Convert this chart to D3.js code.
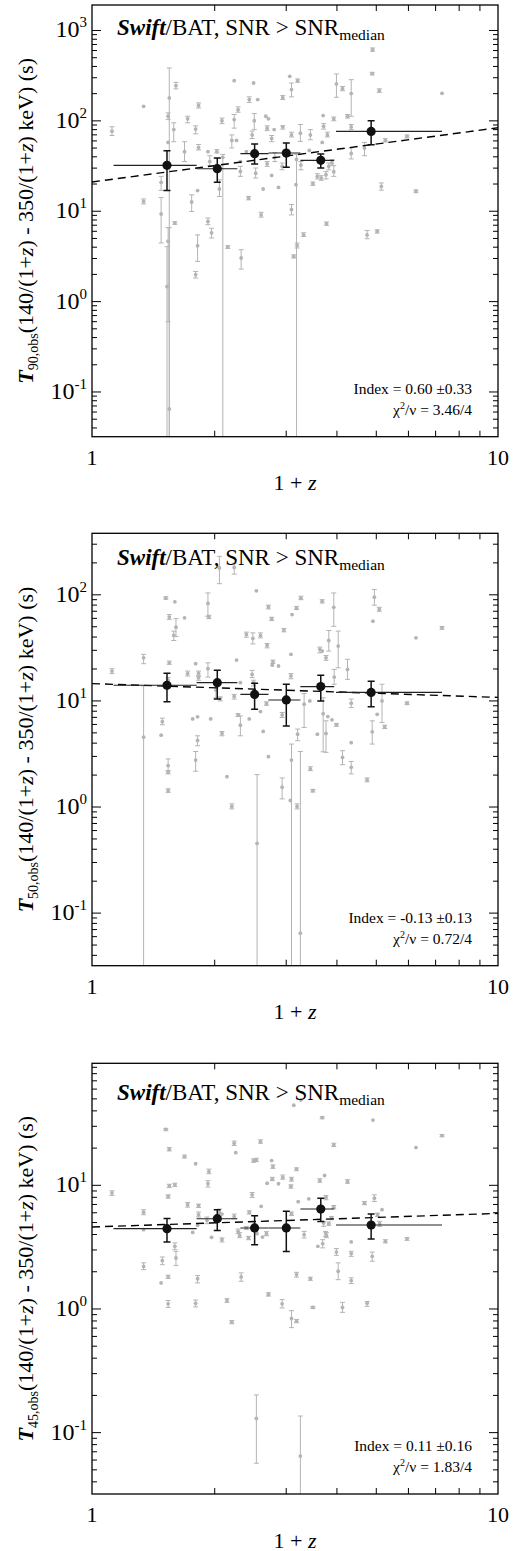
<!DOCTYPE html>
<html><head><meta charset="utf-8">
<script src="https://cdn.jsdelivr.net/npm/d3@7"></script>
<style>
body{margin:0;background:#fff}
svg{display:block}
text{font-family:"Liberation Serif","Times New Roman",serif;fill:#000}
</style>
</head><body>
<svg id="c" width="517" height="1551"></svg>
<script>
// ---------------- DATA ----------------
// binned points (1+z), shared bin edges
const binZ   = [1.53, 2.035, 2.515, 3.01, 3.66, 4.87];
const binZLo = [1.13, 1.81, 2.32, 2.72, 3.26, 3.99];
const binZHi = [1.81, 2.28, 2.72, 3.26, 3.95, 7.28];

const t90Bin   = [31.8, 29.2, 42.8, 43.5, 36.1, 75.5];
const t90BinLo = [16.7, 20.6, 32.9, 30.2, 29.7, 53.8];
const t90BinHi = [46.2, 38.3, 54.8, 56.2, 42.5, 99.3];

const t50Bin   = [13.9, 14.7, 11.4, 10.1, 13.5, 11.9];
const t50BinLo = [9.74, 10.3, 8.27, 5.75, 9.9, 8.7];
const t50BinHi = [18.0, 19.3, 14.5, 14.2, 17.3, 15.2];

const t45Bin   = [4.42, 5.32, 4.48, 4.48, 6.37, 4.73];
const t45BinLo = [3.45, 4.28, 3.28, 2.89, 5.04, 3.65];
const t45BinHi = [5.35, 6.28, 5.62, 6.10, 7.77, 5.81];

// power-law fits  T = norm * (1+z)^index
const fitNorm  = [20.8, 14.4, 4.56];
const fitIndex = [0.60, -0.13, 0.11];
const indexText = ["0.60 \u00b10.33", "-0.13 \u00b10.13", "0.11 \u00b10.16"];
const chiText   = ["3.46/4", "0.72/4", "1.83/4"];

const durLabel = ["90,obs", "50,obs", "45,obs"];
const yTickExp = [[3,2,1,0,-1],[2,1,0,-1],[1,0,-1]];
const xTickMajor = [1, 10];
const xTickMinor = [2,3,4,5,6,7,8,9];

// individual GRBs: [1+z, T, lower, upper] (lower/upper omitted when no bar)
const t90Points = [
[1.12,76,68,85],[1.34,143],[1.34,12.7,11.9,13.5],[1.48,20.6,16.8,24],[1.48,9.2,4.4,14.0],
[1.54,111,102,121],[1.55,177,0.001,380],[1.54,57],[1.59,79,58,94],[1.61,242,223,264],
[1.69,45,35,58],[1.72,104,94,111],[1.76,12.5,9.8,15],[1.80,80,71,87],[1.82,16.7],
[1.83,146,137,156],[1.83,50,47,54],[1.93,45],[1.93,7.6,7.0,8.3],[1.95,35,31.5,40.6],
[1.97,5.7,5.0,6.4],[2.03,45,43.6,47.4],[2.06,17.4,14.4,22],[2.09,99,92,106],[2.10,39,0.001,42],
[2.21,60,49.5,69],[2.24,275],[2.24,102,82,116],[2.27,60],[2.29,131,123,141],
[2.32,27.2,24,31],[2.32,35],[2.40,45],[2.43,13.8,13.2,14.4],[2.44,170,158,182],
[2.48,69,63,76],[2.50,259],[2.51,99,79,119],[2.53,26,23,29.7],[2.56,170],
[2.61,9.0,8.5,9.6],[2.64,17.4],[2.68,111],[2.72,104],[2.70,82,77,87],
[2.70,33,31,35],[2.77,24.6],[2.77,63,58,68],[2.81,79],[2.82,39,35,44],
[2.95,178,170,188],[2.95,84.5,80,87],[2.94,31,28.4,33.7],[3.07,307],[3.10,219,182,259],
[3.10,69,65.5,74],[3.10,10.3,9.0,11.7],[3.21,275,264,287],[3.26,72,58.5,90],[3.45,69,61,79],
[3.80,69,65.5,74],[3.72,86,80,92],[3.71,113],[3.94,104,99,109],[3.69,57],
[3.43,46.5],[3.19,37,0.001,42],[3.27,32,28.4,35],[3.32,5.4,5.2,5.7],[3.50,19.9,19.1,20.8],
[3.59,24,22.5,25.7],[3.67,23,21.7,24.4],[3.77,25,22.5,27.2],[3.83,31,28.4,33.7],[3.90,34,32,36.7],
[3.94,27,24,31.5],[3.78,7.2,6.9,7.5],[4.00,253,180,326],[4.14,224,213,237],[4.26,111,106,116],
[4.35,198,111,282],[4.35,84.5,79,90],[4.35,43,37.4,49.5],[4.69,49.5,40.6,57],[4.91,607,581,633],
[4.90,329,318,340],[5.10,213,204,223],[5.28,60,57.7,62.7],[5.16,18.6,16.9,20.3],[5.97,66.5,64,69],
[6.28,16.4,15.8,17],[7.28,199],[4.76,5.4,4.9,6.05],[5.04,5.9,5.66,6.15],[3.18,19.4],
[1.53,1.45,0.001,4.0],[1.54,4.6,0.59,6.5],[1.55,0.064,0.001,6.5],[1.60,7.3,7.07,7.56],[1.80,1.96,1.8,2.13],
[1.82,4.1,2.75,5.4],[2.16,3.96,3.83,4.1],[2.33,3.0,2.26,3.7],[3.14,3.12,3.0,3.25],[3.20,4.13,3.87,4.39],
[2.88,18.1]
];

const t50Points = [
[1.12,18.9,17.9,19.9],[1.34,25.2,22.2,27.2],[1.34,4.5,0.001,13.7],[1.48,4.7],[1.49,6.3,5.9,6.8],
[1.52,92,90,95],[1.54,15.5,14.7,16.4],[1.55,61,58,64.5],[1.55,22.6,21.9,23.5],[1.54,2.43,2.18,2.81],
[1.54,2.10,2.03,2.18],[1.54,1.41,1.36,1.47],[1.60,85],[1.59,41,36.7,45],[1.61,49,40,59],
[1.69,60],[1.72,17.9,17.0,18.9],[1.77,6.7],[1.80,22.2],[1.82,7.0],
[1.82,4.2,3.74,4.64],[1.80,2.74,2.15,3.3],[1.83,18.0,17.0,18.9],[1.83,16.4,15.5,17.0],[1.93,82,62,103],
[1.94,61,59,63.5],[1.93,19.9,16.6,22.6],[1.96,6.7],[2.02,12.5,10.6,13.2],[2.06,177,126,228],
[2.07,10.4,9.9,10.8],[2.09,4.88,4.64,5.09],[2.15,1.91],[2.24,10.9,10.3,11.4],[2.24,179,155,197],
[2.27,24.0],[2.29,7.3,7.05,7.5],[2.32,14.7],[2.32,5.85,4.64,7.15],[2.40,41.8,39.4,44],
[2.44,6.7],[2.49,38.4,34.1,43.3],[2.48,17.6,16.4,19.2],[2.50,14.7,13.7,15.5],[2.54,108],
[2.55,0.45,0.001,2.0],[2.60,41,38.9,43.3],[2.60,7.85],[2.64,5.1],[2.69,9.3,9.0,9.7],
[2.70,33,31.3,34.4],[2.72,76,72.8,79],[2.72,2.95],[2.77,58.6,56.6,60.8],[2.78,21.5],
[2.79,23.1,22.3,24],[2.88,21.1],[2.94,7.3,6.9,7.7],[2.94,1.52,1.18,1.86],[2.97,46,44.3,47.6],
[3.09,27.2],[3.09,17.0,16.0,17.9],[3.10,2.74,0.001,3.88],[3.08,1.14],[3.11,64.4],
[3.19,74,71.8,77],[3.21,4.8,4.17,5.37],[3.27,92,89,96],[3.26,0.064,0.001,3.3],[3.20,1.0,0.95,1.06],
[2.21,1.0,0.95,1.06],[3.33,9.2,5.55,11.6],[3.44,9.9],[3.45,2.26,2.18,2.37],[3.50,1.41,1.37,1.45],
[3.59,4.8],[3.64,30.3,28.1,31.8],[3.69,29.2],[3.69,86,82.8,89],[3.71,7.5,3.28,10.6],
[3.77,25.2,23.9,26.5],[3.77,4.88,3.24,6.42],[3.81,7.05],[3.83,36.7,29.2,45.6],[3.90,6.56],
[3.94,75.5,50,103],[3.95,16.6,14.2,19.6],[4.00,5.9,5.72,6.05],[4.04,32.5,20.3,45],[4.14,2.9,2.48,3.36],
[4.26,19.6,15.8,24.4],[4.35,4.0],[4.35,2.34,2.03,2.66],[4.35,9.4,8.56,10.3],[4.76,1.78,1.71,1.86],
[4.90,5.06,3.88,6.42],[4.92,55.8],[4.96,94,79,111],[5.10,72.3,69.2,75.5],[5.04,7.4],
[5.18,9.9,6.19,14.2],[5.26,5.64,5.43,5.85],[5.97,9.4,9.13,9.68],[6.28,38.9],[7.28,48.3,46.9,49.7]
];

const t45Points = [
[1.12,8.6,8.2,8.95],[1.34,6.0,5.73,6.29],[1.34,4.34],[1.34,2.19,2.06,2.34],[1.48,1.61],
[1.49,2.44,2.26,2.61],[1.52,28.1,27.4,28.6],[1.55,19.4,18.8,20],[1.55,9.8,9.5,10.1],[1.54,8.05,7.8,8.3],
[1.54,1.80,1.75,1.86],[1.54,1.09,1.02,1.16],[1.60,10,9.7,10.3],[1.60,3.18,2.99,3.39],[1.61,2.56,2.23,2.9],
[1.69,16.9,16.5,17.4],[1.72,6.9,6.6,7.2],[1.77,4.12],[1.80,14.8],[1.82,4.7],
[1.83,6.77,6.56,6.98],[1.83,5.73,5.49,6.03],[1.82,1.74,1.61,1.85],[1.80,1.10,1.03,1.17],[1.94,12.8,12.3,13.4],
[1.93,10.2,9.6,10.8],[1.92,5.15,4.85,5.49],[1.97,3.76],[2.06,5.98,5.55,6.37],[2.09,3.6,3.45,3.72],
[2.09,5.8],[2.15,1.16,1.12,1.2],[2.21,0.775,0.753,0.80],[2.24,21.7,20.8,22.6],[2.26,18.2],
[2.24,5.55,5.32,5.8],[2.29,4.2,4.03,4.39],[2.31,3.9,3.74,4.1],[2.33,1.8,1.66,1.94],[2.40,4.48,4.34,4.61],
[2.43,3.72,3.6,3.83],[2.44,5.98,5.8,6.17],[2.48,8.3,7.9,8.67],[2.50,15.7,15.2,16.2],[2.54,15.9,15.4,16.4],
[2.55,4.03],[2.60,22.3,21.7,23.1],[2.61,6.7],[2.63,3.78],[2.69,4.03,3.88,4.18],
[2.70,10.3],[2.72,1.30,1.26,1.34],[2.77,15.7],[2.79,14.0,13.6,14.5],[2.78,11.1,10.8,11.5],
[2.88,10.2],[2.95,11.5,11.1,12],[2.94,1.09,1.01,1.18],[3.10,11.1,10.7,11.5],[3.09,9.7,9.4,10],
[3.10,5.84,5.65,6.03],[3.10,0.83,0.70,0.96],[3.19,13.4,13,13.7],[3.19,1.88,1.79,1.96],[3.19,0.79,0.767,0.815],
[3.22,7.3],[3.14,44],[3.27,48.5],[3.69,34.9,34.3,35.6],[4.92,33.4],
[3.94,21,20.4,21.7],[3.64,10.8,10.5,11.2],[3.74,11.9],[4.26,10.6,10.3,11],[3.42,7.7],
[3.77,7.9,7.57,8.2],[3.94,6.6,6.4,6.8],[4.69,7.1,6.9,7.33],[4.96,7.8,7.33,8.3],[5.18,6.3],
[5.05,5.73,5.55,5.9],[5.11,4.85,4.61,5.06],[3.89,5.39,5.22,5.55],[3.72,4.91,4.61,5.06],[3.83,4.85,4.7,5.0],
[3.33,3.95,3.72,4.2],[3.76,4.08,3.83,4.2],[3.78,3.9,3.74,4.1],[3.60,3.18],[3.70,3.34,3.09,3.6],
[4.00,2.86,2.69,3.05],[4.35,3.45],[4.35,2.78,2.64,2.9],[4.90,2.64,2.41,2.86],[5.28,3.49,3.39,3.6],
[5.97,3.65,3.56,3.74],[3.45,1.74,1.69,1.79],[4.04,2.0,1.71,2.34],[4.35,1.68,1.59,1.77],[3.50,1.02,1.0,1.04],
[4.14,1.02,0.93,1.12],[4.76,1.10,1.04,1.14],[6.28,20],[7.28,25,24.5,25.5],[2.54,0.129,0.056,0.2],
[3.26,0.064,0.001,0.135]
];

const yDomainMin = 0.0316;
const yDomainMax = [1890, 376, 96.1];

// ---------------- LAYOUT ----------------
const pointSets = [t90Points, t50Points, t45Points];
const binSets = [[t90Bin,t90BinLo,t90BinHi],[t50Bin,t50BinLo,t50BinHi],[t45Bin,t45BinLo,t45BinHi]];
const panelTop = [5, 533.3, 1063.3];
const panelBottom = [436.7, 965.7, 1494];
const titleDy = [30, 32, 37];
const L = 92, R = 498;
const grey = "#b4b4b4";

const svg = d3.select("#c");
const x = d3.scaleLog().domain([1,10]).range([L,R]);

for (let i = 0; i < 3; i++) {
  const top = panelTop[i], bot = panelBottom[i];
  const y = d3.scaleLog().domain([yDomainMin, yDomainMax[i]]).range([bot, top]);
  const g = svg.append("g");
  const clipId = "clip" + i;
  g.append("clipPath").attr("id", clipId).append("rect")
    .attr("x", L).attr("y", top).attr("width", R - L).attr("height", bot - top);
  const plot = g.append("g").attr("clip-path", `url(#${clipId})`);

  const pts = pointSets[i];
  const withErr = pts.filter(p => p.length === 4);
  const inDom = v => v >= yDomainMin && v <= yDomainMax[i];

  // grey error bars
  plot.selectAll("line.eb").data(withErr).join("line")
    .attr("x1", d => x(d[0])).attr("x2", d => x(d[0]))
    .attr("y1", d => y(d[2])).attr("y2", d => y(d[3]))
    .attr("stroke", grey).attr("stroke-width", 1);
  const caps = [];
  withErr.forEach(d => { if (inDom(d[2])) caps.push([d[0], d[2]]); if (inDom(d[3])) caps.push([d[0], d[3]]); });
  plot.selectAll("line.cap").data(caps).join("line")
    .attr("x1", d => x(d[0]) - 2.5).attr("x2", d => x(d[0]) + 2.5)
    .attr("y1", d => y(d[1])).attr("y2", d => y(d[1]))
    .attr("stroke", grey).attr("stroke-width", 1);
  plot.selectAll("circle.pt").data(pts).join("circle")
    .attr("cx", d => x(d[0])).attr("cy", d => y(d[1])).attr("r", 1.9)
    .attr("fill", grey);

  // fit line
  const fitX = [1, 10];
  plot.append("path")
    .attr("d", d3.line().x(v => x(v)).y(v => y(fitNorm[i] * Math.pow(v, fitIndex[i])))(fitX))
    .attr("fill", "none").attr("stroke", "#000").attr("stroke-width", 1.4)
    .attr("stroke-dasharray", "8,5");

  // binned points
  const [bv, blo, bhi] = binSets[i];
  const bins = binZ.map((z, k) => ({z, zl: binZLo[k], zh: binZHi[k], v: bv[k], lo: blo[k], hi: bhi[k]}));
  plot.selectAll("line.bh").data(bins).join("line")
    .attr("x1", d => x(d.zl)).attr("x2", d => x(d.zh))
    .attr("y1", d => y(d.v)).attr("y2", d => y(d.v))
    .attr("stroke", "#222").attr("stroke-width", 1.1);
  plot.selectAll("line.bv").data(bins).join("line")
    .attr("x1", d => x(d.z)).attr("x2", d => x(d.z))
    .attr("y1", d => y(d.lo)).attr("y2", d => y(d.hi))
    .attr("stroke", "#111").attr("stroke-width", 1.5);
  const bcaps = [];
  bins.forEach(d => { bcaps.push([d.z, d.lo]); bcaps.push([d.z, d.hi]); });
  plot.selectAll("line.bc").data(bcaps).join("line")
    .attr("x1", d => x(d[0]) - 3.5).attr("x2", d => x(d[0]) + 3.5)
    .attr("y1", d => y(d[1])).attr("y2", d => y(d[1]))
    .attr("stroke", "#111").attr("stroke-width", 1.5);
  plot.selectAll("circle.bp").data(bins).join("circle")
    .attr("cx", d => x(d.z)).attr("cy", d => y(d.v)).attr("r", 4.6)
    .attr("fill", "#111");

  // axes (inward ticks on all four sides)
  const majors = yTickExp[i].map(e => Math.pow(10, e));
  const minors = [];
  for (let e = -2; e <= 3; e++) for (let m = 2; m <= 9; m++) { const v = m * Math.pow(10, e); if (inDom(v)) minors.push(v); }
  const styleAxis = sel => { sel.select(".domain").remove(); sel.selectAll("line").attr("stroke", "#000").attr("stroke-width", 1); sel.selectAll("text").remove(); };
  g.append("g").attr("transform", `translate(${L},0)`).call(d3.axisLeft(y).tickValues(minors).tickSize(-5).tickSizeOuter(0)).call(styleAxis);
  g.append("g").attr("transform", `translate(${L},0)`).call(d3.axisLeft(y).tickValues(majors).tickSize(-9).tickSizeOuter(0)).call(styleAxis);
  g.append("g").attr("transform", `translate(${R},0)`).call(d3.axisRight(y).tickValues(minors).tickSize(-5).tickSizeOuter(0)).call(styleAxis);
  g.append("g").attr("transform", `translate(${R},0)`).call(d3.axisRight(y).tickValues(majors).tickSize(-9).tickSizeOuter(0)).call(styleAxis);
  g.append("g").attr("transform", `translate(0,${bot})`).call(d3.axisBottom(x).tickValues(xTickMinor).tickSize(-6).tickSizeOuter(0)).call(styleAxis);
  g.append("g").attr("transform", `translate(0,${top})`).call(d3.axisTop(x).tickValues(xTickMinor).tickSize(-6).tickSizeOuter(0)).call(styleAxis);

  // frame
  g.append("rect").attr("x", L).attr("y", top).attr("width", R - L).attr("height", bot - top)
    .attr("fill", "none").attr("stroke", "#000").attr("stroke-width", 1.3);

  // y tick labels 10^n
  yTickExp[i].forEach(e => {
    const t = g.append("text").attr("x", L - 5).attr("y", y(Math.pow(10, e)) + 7.5)
      .attr("text-anchor", "end").style("font-size", "24px");
    t.append("tspan").text("10");
    t.append("tspan").attr("dy", -10).style("font-size", "15px").text(String(e));
  });
  // x tick labels
  xTickMajor.forEach(v => {
    g.append("text").attr("x", x(v)).attr("y", bot + 28).attr("text-anchor", "middle")
      .style("font-size", "22px").text(String(v));
  });
  // x title
  const xt = g.append("text").attr("x", 295).attr("y", bot + 53.5).attr("text-anchor", "middle").style("font-size", "22px");
  xt.append("tspan").text("1 + ");
  xt.append("tspan").style("font-style", "italic").text("z");

  // y title
  const yt = g.append("text").attr("transform", `translate(33,${(top + bot) / 2}) rotate(-90)`)
    .attr("text-anchor", "middle").style("font-size", "22px");
  yt.append("tspan").style("font-weight", "bold").style("font-style", "italic").text("T");
  yt.append("tspan").attr("dy", 5).style("font-size", "14px").text(durLabel[i]);
  yt.append("tspan").attr("dy", -5).text("(140/(1+");
  yt.append("tspan").style("font-style", "italic").text("z");
  yt.append("tspan").text(") - 350/(1+");
  yt.append("tspan").style("font-style", "italic").text("z");
  yt.append("tspan").text(") keV) (s)");

  // panel title
  const tt = g.append("text").attr("x", 117).attr("y", top + titleDy[i]).style("font-size", "23px");
  tt.append("tspan").style("font-weight", "bold").style("font-style", "italic").text("Swift");
  tt.append("tspan").text("/BAT, SNR > SNR");
  tt.append("tspan").attr("dy", 5).style("font-size", "15.5px").text("median");

  // fit annotation
  g.append("text").attr("x", 472).attr("y", bot - 43).attr("text-anchor", "end")
    .style("font-size", "15.5px").text("Index = " + indexText[i]);
  const ct = g.append("text").attr("x", 472).attr("y", bot - 22).attr("text-anchor", "end").style("font-size", "15.5px");
  ct.append("tspan").text("\u03c7");
  ct.append("tspan").attr("dy", -6).style("font-size", "10px").text("2");
  ct.append("tspan").attr("dy", 6).text("/\u03bd = " + chiText[i]);
}
</script>
</body></html>
